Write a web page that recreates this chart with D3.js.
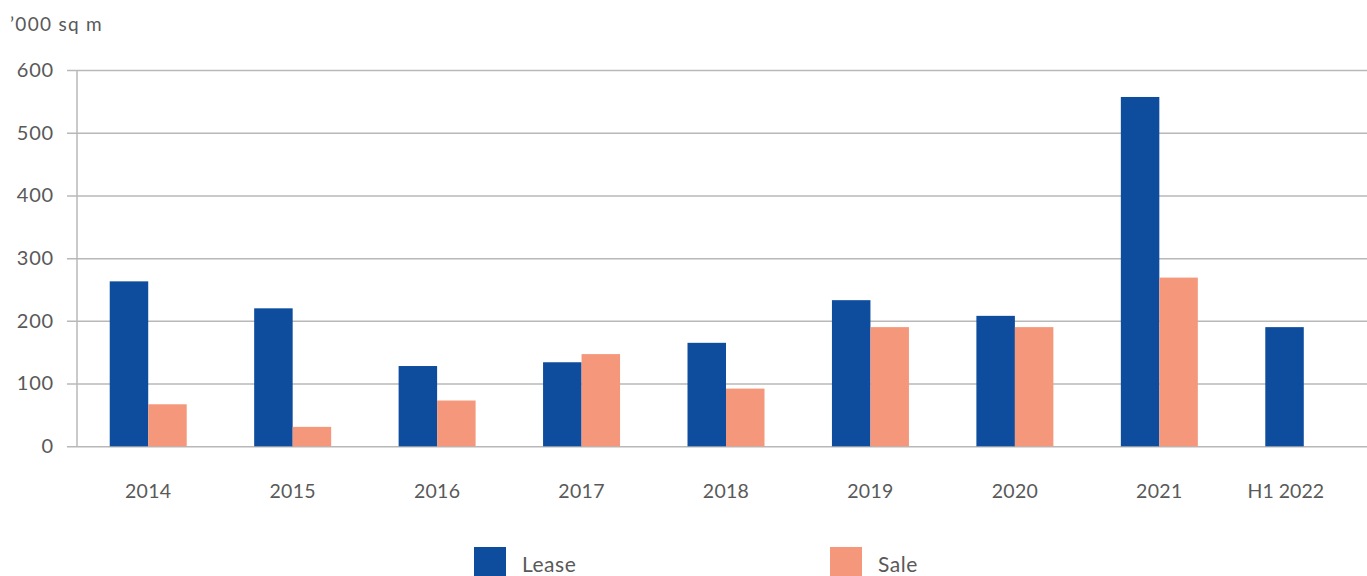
<!DOCTYPE html>
<html>
<head>
<meta charset="utf-8">
<script src="https://cdn.jsdelivr.net/npm/d3@7/dist/d3.min.js"></script>
<style>
  html, body { margin: 0; padding: 0; background: #fff; }
  svg { display: block; font-family: Lato, "Open Sans", sans-serif; }
</style>
</head>
<body>
<svg id="chart" width="1367" height="576"></svg>
<script>
// Take-up by transaction type, thousand square metres
const categories = ["2014", "2015", "2016", "2017", "2018", "2019", "2020", "2021", "H1 2022"];
const lease = [263, 220, 128, 134, 165, 233, 208, 557, 190];
const sale  = [67, 31, 73, 147, 92, 190, 190, 269, null];
const yTicks = [0, 100, 200, 300, 400, 500, 600];
const seriesNames = ["Lease", "Sale"];
const seriesColors = ["#0e4c9e", "#f4977a"];

const svg = d3.select("#chart");
const width = 1367, height = 576;
const axisX = 77;
const plotTop = 70;
const y0 = 446.3;

const x = d3.scaleBand()
  .domain(categories)
  .range([76, 1376])
  .paddingInner(0.467)
  .paddingOuter(0.2335);

const xSub = d3.scaleBand()
  .domain(seriesNames)
  .range([0, x.bandwidth()]);

const y = d3.scaleLinear()
  .domain([0, 600])
  .range([y0, plotTop]);

const textColor = "#595959";
const gridColor = "#b8b8b8";

// horizontal gridlines with short outside ticks
const yAxis = d3.axisLeft(y)
  .tickValues(yTicks)
  .tickSize(-(width - axisX))
  .tickPadding(23)
  .tickFormat(d3.format("d"));

const gy = svg.append("g")
  .attr("transform", `translate(${axisX},0)`)
  .call(yAxis);
gy.select(".domain").remove();
gy.selectAll(".tick line")
  .attr("x1", -10)
  .attr("stroke", gridColor)
  .attr("stroke-width", 1.5);
gy.selectAll(".tick text")
  .attr("fill", textColor)
  .attr("font-size", 20)
  .attr("letter-spacing", 0.8)
  .attr("font-family", "Lato, sans-serif");

// vertical axis line
svg.append("line")
  .attr("x1", axisX).attr("x2", axisX)
  .attr("y1", y(600)).attr("y2", y(0))
  .attr("stroke", gridColor)
  .attr("stroke-width", 1.5);

// category labels
const xAxis = d3.axisBottom(x).tickSize(0).tickPadding(38);
const gx = svg.append("g")
  .attr("transform", `translate(0,${y0})`)
  .call(xAxis);
gx.select(".domain").remove();
gx.selectAll(".tick text")
  .attr("fill", textColor)
  .attr("font-size", 19.5)
  .attr("letter-spacing", 0.3)
  .attr("font-family", "Lato, sans-serif");

// last label is pulled in so it stays clear of the right edge
const lastCat = categories[categories.length - 1];
gx.selectAll(".tick text")
  .filter(d => d === lastCat)
  .attr("text-anchor", "end")
  .attr("letter-spacing", 0)
  .attr("x", 1324 - (x(lastCat) + x.bandwidth() / 2));

// bars
const rows = categories.map((c, i) => ({ cat: c, values: [lease[i], sale[i]] }));
const groups = svg.append("g").selectAll("g")
  .data(rows)
  .join("g")
  .attr("transform", d => `translate(${x(d.cat)},0)`);

groups.selectAll("rect")
  .data(d => d.values.map((v, j) => ({ name: seriesNames[j], value: v, color: seriesColors[j] }))
    .filter(e => e.value != null))
  .join("rect")
  .attr("x", d => xSub(d.name))
  .attr("width", xSub.bandwidth())
  .attr("y", d => y(d.value))
  .attr("height", d => y(0) - y(d.value))
  .attr("fill", d => d.color);

// unit label
svg.append("text")
  .attr("x", 10)
  .attr("y", 31)
  .attr("fill", textColor)
  .attr("font-size", 19)
  .attr("letter-spacing", 1.3)
  .attr("font-family", "Lato, sans-serif")
  .text("’000 sq m");

// legend
const legendX = [474, 830];
const legend = svg.append("g").selectAll("g")
  .data(seriesNames)
  .join("g")
  .attr("transform", (d, i) => `translate(${legendX[i]},547)`);
legend.append("rect")
  .attr("width", 32)
  .attr("height", 32)
  .attr("fill", (d, i) => seriesColors[i]);
legend.append("text")
  .attr("x", 48)
  .attr("y", 25)
  .attr("fill", textColor)
  .attr("font-size", 21)
  .attr("letter-spacing", 0.5)
  .attr("font-family", "Lato, sans-serif")
  .text(d => d);
</script>
</body>
</html>
